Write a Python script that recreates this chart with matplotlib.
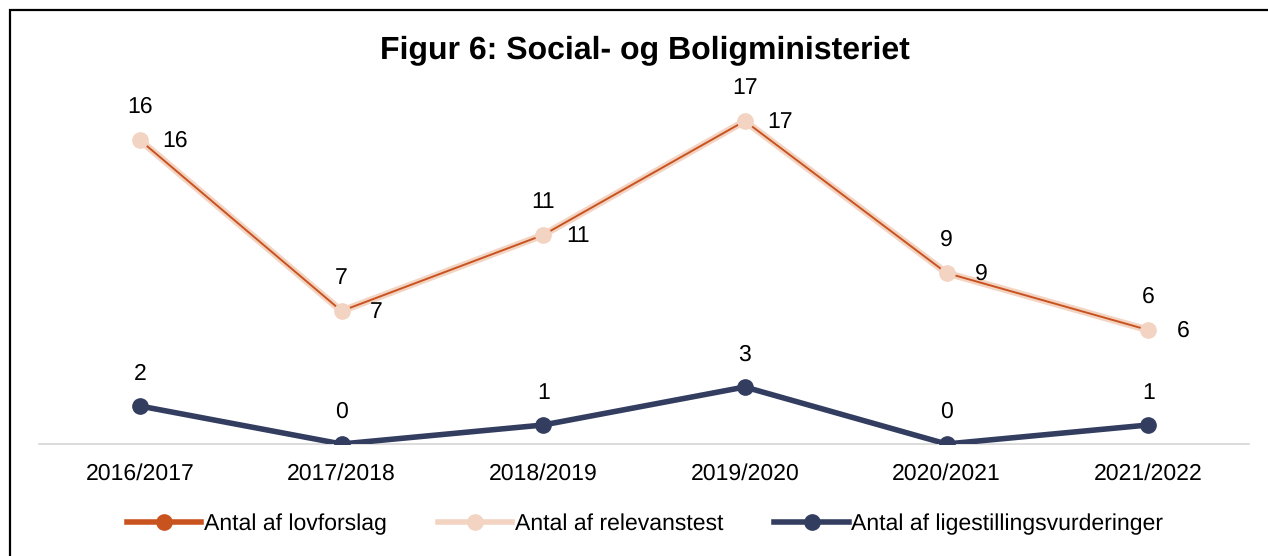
import matplotlib
matplotlib.use("Agg")
import matplotlib.pyplot as plt
from matplotlib.patches import Rectangle
from matplotlib.lines import Line2D

plt.rcParams['font.family'] = ['Liberation Sans', 'DejaVu Sans']
plt.rcParams['text.hinting'] = 'no_hinting'
plt.rcParams['text.hinting_factor'] = 1

categories = ["2016/2017", "2017/2018", "2018/2019", "2019/2020", "2020/2021", "2021/2022"]
lovforslag = [16, 7, 11, 17, 9, 6]
relevanstest = [16, 7, 11, 17, 9, 6]
ligestilling = [2, 0, 1, 3, 0, 1]

c_lov = "#C9531F"
c_rel = "#F3D3C2"
c_lig = "#323D60"

W, H = 1268, 556
fig = plt.figure(figsize=(W / 100, H / 100), dpi=100)
ax = fig.add_axes([39 / W, (H - 444) / H, (1249 - 39) / W, 342 / H])

x = list(range(len(categories)))
ax.plot(x, relevanstest, color=c_rel, lw=5, solid_capstyle='round', zorder=2)
ax.plot(x, lovforslag, color=c_lov, lw=1.4, zorder=3, marker='o', ms=9,
        mfc=c_lov, mec=c_lov)
ax.plot(x, relevanstest, color=c_rel, lw=0, zorder=4, marker='o', ms=11,
        mfc=c_rel, mec=c_rel)
ax.plot(x, ligestilling, color=c_lig, lw=4, zorder=4, marker='o', ms=11,
        mfc=c_lig, mec=c_lig)

fs = 16.8
for xi, v in zip(x, lovforslag):
    ax.annotate(str(v), (xi, v), xytext=(0, 33), textcoords='offset pixels',
                ha='center', va='center', fontsize=fs)
for xi, v in zip(x, relevanstest):
    ax.annotate(str(v), (xi, v), xytext=(35, -1), textcoords='offset pixels',
                ha='center', va='center', fontsize=fs)
for xi, v in zip(x, ligestilling):
    ax.annotate(str(v), (xi, v), xytext=(0, 32), textcoords='offset pixels',
                ha='center', va='center', fontsize=fs)

ax.set_xlim(-0.5, len(categories) - 0.5)
ax.set_ylim(0, 18)
ax.set_xticks(x)
ax.set_xticklabels(categories, fontsize=fs)
ax.set_yticks([])
ax.tick_params(axis='x', length=0, pad=14)
for s in ['top', 'right', 'left']:
    ax.spines[s].set_visible(False)
ax.spines['bottom'].set_color('#D9D9D9')
ax.spines['bottom'].set_linewidth(1.3)
ax.set_zorder(1)
ax.patch.set_visible(False)

fig.text(645 / W, 1 - 50 / H, "Figur 6: Social- og Boligministeriet",
         ha='center', va='center', fontsize=23, fontweight='bold')

handles = [
    Line2D([], [], color=c_lov, lw=4, marker='o', ms=11, mfc=c_lov, mec=c_lov),
    Line2D([], [], color=c_rel, lw=4, marker='o', ms=11, mfc=c_rel, mec=c_rel),
    Line2D([], [], color=c_lig, lw=4, marker='o', ms=11, mfc=c_lig, mec=c_lig),
]
labels = ["Antal af lovforslag", "Antal af relevanstest", "Antal af ligestillingsvurderinger"]
fig.legend(handles, labels, loc='center', bbox_to_anchor=(645 / W, 1 - 524 / H),
           ncol=3, frameon=False, fontsize=fs, handlelength=3.2,
           handletextpad=0.1, columnspacing=2.2)

fig.patches.append(Rectangle((10 / W, -0.1), 1.2, 1 - 10 / H + 0.1,
                             transform=fig.transFigure, fill=False,
                             edgecolor='black', lw=1.6, zorder=10))

fig.savefig("out.png", dpi=100)
